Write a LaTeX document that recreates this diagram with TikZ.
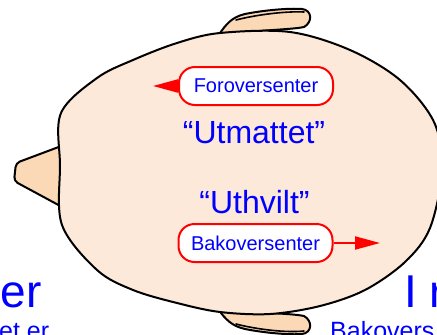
\documentclass[tikz,border=0pt]{standalone}
\usepackage{fontspec}
\setmainfont{Liberation Sans}
\usetikzlibrary{arrows.meta}
\definecolor{skin}{RGB}{253,233,217}
\definecolor{skindark}{RGB}{252,217,182}
\definecolor{txtblue}{RGB}{0,0,255}
\definecolor{boxred}{RGB}{255,0,0}
\tikzset{
  outline/.style={draw=black, line width=2pt, line join=round, line cap=round},
  centerbox/.style={draw=boxred, fill=white, line width=2pt, rounded corners=16pt,
    minimum width=154pt, minimum height=38pt, inner sep=0pt, text=txtblue,
    font=\fontsize{20}{24}\selectfont},
  state/.style={text=txtblue, inner sep=0pt, anchor=base, font=\fontsize{32}{38}\selectfont},
  heading/.style={text=txtblue, inner sep=0pt, font=\fontsize{46}{52}\selectfont},
  subtext/.style={text=txtblue, inner sep=0pt, anchor=base west, font=\fontsize{25}{30}\selectfont},
  shift arrow/.style={draw=boxred, line width=2pt, -{Triangle[length=25pt,width=13pt]}}
}
\begin{document}
\begin{tikzpicture}[x=1pt,y=-1pt]
\useasboundingbox (0,0) rectangle (437,335);

% nose, pointing left
\draw[outline, fill=skindark, rounded corners=4pt]
  (64,145) -- (16,163) -- (14,181) -- (64,208) -- cycle;

% ear at the top
\draw[outline, fill=skindark]
  (218,36) .. controls (226,24) and (232,17) .. (245,14)
  .. controls (265,10) and (290,8) .. (302,9)
  .. controls (312,10) and (313,22) .. (304,27)
  .. controls (290,30) and (250,30) .. (218,36) -- cycle;
\draw[outline, line width=1.6pt] (236,20) .. controls (255,15) and (285,11) .. (304,12);

% ear at the bottom
\draw[outline, fill=skindark]
  (218,309) .. controls (226,320) and (232,326) .. (245,329)
  .. controls (265,333) and (290,335) .. (302,334)
  .. controls (312,333) and (313,321) .. (304,316)
  .. controls (290,313) and (250,313) .. (218,309) -- cycle;
\draw[outline, line width=1.6pt] (236,324) .. controls (255,329) and (285,333) .. (304,331);

% head seen from above
\draw[outline, fill=skin] plot[smooth cycle, tension=0.55] coordinates {
  (61,113) (60,165) (62,225) (97,270) (133,290) (177,303) (220,312)
  (270,314) (320,306) (365,290) (405,262) (430,228) (442,170) (434,122)
  (400,80) (350,50) (290,32) (220,33) (177,43) (133,60) (97,78)};

% centre of mass labels and shift arrows
\node[centerbox] (fwd) at (256,86) {Foroversenter};
\coordinate (fwdtip) at (153,86);
\draw[shift arrow] (fwd.west) -- (fwdtip);

\node[state] (tired) at (254,143) {“Utmattet”};
\node[state] (rested) at (254.5,213) {“Uthvilt”};

\node[centerbox] (back) at (255.5,243) {Bakoversenter};
\coordinate (backtip) at (380,243);
\draw[shift arrow] (back.east) -- (backtip);

% headings along the lower edge
\node[heading, anchor=base east] (lefthead) at (42,307) {er};
\node[heading, anchor=base west] (righthead) at (404,307) {I r};
\node[subtext] (leftsub) at (-1,339) {et er};
\node[subtext] (rightsub) at (330,339) {Bakovers};
\end{tikzpicture}
\end{document}
